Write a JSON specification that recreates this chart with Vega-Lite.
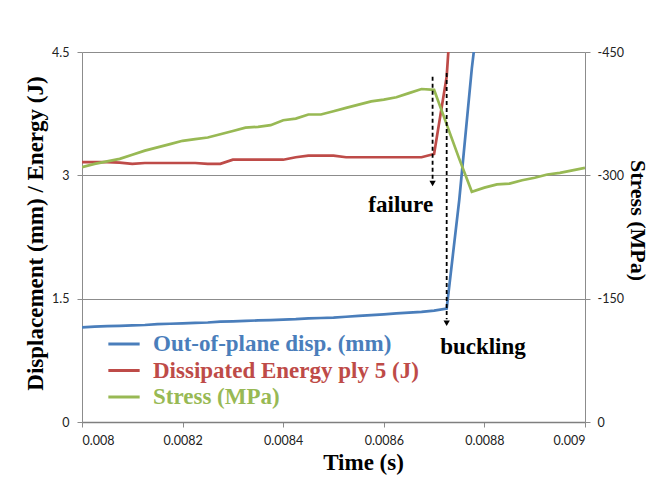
{
  "$schema": "https://vega.github.io/schema/vega-lite/v6.json",
  "width": 503,
  "height": 370,
  "autosize": {"type": "none"},
  "padding": {"left": 82, "top": 52, "right": 80, "bottom": 67},
  "background": "white",
  "config": {"view": {"stroke": null}, "font": "Liberation Serif"},
  "datasets": {
    "series": [
      {"t": 0.008, "d": 1.15, "e": 3.16, "s": -310},
      {"t": 0.008025, "d": 1.16, "e": 3.16, "s": -314},
      {"t": 0.00805, "d": 1.165, "e": 3.16, "s": -317},
      {"t": 0.008075, "d": 1.17, "e": 3.155, "s": -320},
      {"t": 0.0081, "d": 1.175, "e": 3.14, "s": -325},
      {"t": 0.008125, "d": 1.18, "e": 3.15, "s": -330},
      {"t": 0.00815, "d": 1.19, "e": 3.15, "s": -334},
      {"t": 0.008175, "d": 1.195, "e": 3.15, "s": -338},
      {"t": 0.0082, "d": 1.2, "e": 3.15, "s": -342},
      {"t": 0.008225, "d": 1.205, "e": 3.15, "s": -344},
      {"t": 0.00825, "d": 1.21, "e": 3.14, "s": -346},
      {"t": 0.008275, "d": 1.22, "e": 3.14, "s": -350},
      {"t": 0.0083, "d": 1.225, "e": 3.19, "s": -354},
      {"t": 0.008325, "d": 1.23, "e": 3.19, "s": -358},
      {"t": 0.00835, "d": 1.235, "e": 3.19, "s": -359},
      {"t": 0.008375, "d": 1.24, "e": 3.19, "s": -361},
      {"t": 0.0084, "d": 1.245, "e": 3.19, "s": -367},
      {"t": 0.008425, "d": 1.25, "e": 3.22, "s": -369},
      {"t": 0.00845, "d": 1.26, "e": 3.24, "s": -374},
      {"t": 0.008475, "d": 1.265, "e": 3.24, "s": -374},
      {"t": 0.0085, "d": 1.27, "e": 3.24, "s": -378},
      {"t": 0.008525, "d": 1.28, "e": 3.22, "s": -382},
      {"t": 0.00855, "d": 1.29, "e": 3.22, "s": -386},
      {"t": 0.008575, "d": 1.3, "e": 3.22, "s": -390},
      {"t": 0.0086, "d": 1.31, "e": 3.22, "s": -392},
      {"t": 0.008625, "d": 1.32, "e": 3.22, "s": -395},
      {"t": 0.00865, "d": 1.33, "e": 3.22, "s": -400},
      {"t": 0.008675, "d": 1.34, "e": 3.22, "s": -405},
      {"t": 0.0087, "d": 1.355, "e": 3.26, "s": -404},
      {"t": 0.008725, "d": 1.38, "e": 4.2, "s": -362},
      {"t": 0.00875, "d": 2.7, "e": 6.5, "s": -320},
      {"t": 0.008775, "d": 4.3, "e": 9, "s": -280},
      {"t": 0.0088, "d": 5.6, "e": 11, "s": -285},
      {"t": 0.008825, "d": 6.5, "e": 12, "s": -289},
      {"t": 0.00885, "d": 7, "e": 13, "s": -290},
      {"t": 0.008875, "d": 7.4, "e": 13.5, "s": -294},
      {"t": 0.0089, "d": 7.7, "e": 14, "s": -297},
      {"t": 0.008925, "d": 8, "e": 14.5, "s": -301},
      {"t": 0.00895, "d": 8.2, "e": 15, "s": -303},
      {"t": 0.008975, "d": 8.4, "e": 15.5, "s": -306},
      {"t": 0.009, "d": 8.6, "e": 16, "s": -309}
    ]
  },
  "layer": [
    {
      "encoding": {
        "x": {
          "type": "quantitative",
          "scale": {"domain": [0.008, 0.009], "nice": false, "zero": false},
          "axis": {
            "values": [0.008, 0.0082, 0.0084, 0.0086, 0.0088, 0.009],
            "labelExpr": "'' + datum.value",
            "grid": false,
            "domainColor": "#7f7f7f",
            "domainWidth": 1.5,
            "tickColor": "#8c8c8c",
            "tickSize": 5,
            "labelPadding": 7,
            "labelFont": "Lato",
            "labelFontSize": 12.5,
            "labelColor": "#222222",
            "title": "Time (s)",
            "titleFont": "Liberation Serif",
            "titleFontSize": 23,
            "titleFontWeight": "bold",
            "titleColor": "black",
            "titleX": 281,
            "titleY": 40,
            "titleAlign": "center",
            "titleBaseline": "middle"
          }
        },
        "y": {
          "type": "quantitative",
          "scale": {"domain": [0, 4.5], "nice": false},
          "axis": {
            "values": [0, 1.5, 3, 4.5],
            "labelExpr": "'' + datum.value",
            "grid": true,
            "gridColor": "#8c8c8c",
            "domainColor": "#8c8c8c",
            "tickColor": "#8c8c8c",
            "tickSize": 5,
            "labelPadding": 8,
            "labelFont": "Lato",
            "labelFontSize": 12.5,
            "labelColor": "#222222",
            "title": "Displacement (mm) / Energy (J)",
            "titleFont": "Liberation Serif",
            "titleFontSize": 23,
            "titleFontWeight": "bold",
            "titleColor": "black",
            "titleX": -47,
            "titleY": 181,
            "titleAngle": -90,
            "titleAlign": "center",
            "titleBaseline": "middle"
          }
        }
      },
      "layer": [
        {
          "data": {"name": "series"},
          "mark": {"type": "line", "strokeWidth": 2.7, "clip": true},
          "encoding": {
            "x": {"field": "t", "type": "quantitative"},
            "y": {"field": "d", "type": "quantitative"},
            "color": {
              "datum": "Out-of-plane disp. (mm)",
              "type": "nominal",
              "scale": {
                "domain": ["Out-of-plane disp. (mm)", "Dissipated Energy ply 5 (J)", "Stress (MPa)"],
                "range": ["#4A7EBB", "#BE4B48", "#98B954"]
              },
              "legend": {
                "orient": "none",
                "legendX": 29,
                "legendY": 279,
                "title": null,
                "symbolType": "M-1.4,0H1.4",
                "symbolStrokeWidth": 3,
                "symbolSize": 500,
                "labelFont": "Liberation Serif",
                "labelFontSize": 23,
                "labelFontWeight": "bold",
                "labelOffset": 16,
                "labelLimit": 400,
                "labelColor": {"expr": "scale('color', datum.value)"},
                "rowPadding": 1.5,
                "padding": 0
              }
            }
          }
        },
        {
          "data": {"name": "series"},
          "mark": {"type": "line", "strokeWidth": 2.7, "clip": true},
          "encoding": {
            "x": {"field": "t", "type": "quantitative"},
            "y": {"field": "e", "type": "quantitative"},
            "color": {"datum": "Dissipated Energy ply 5 (J)", "type": "nominal"}
          }
        }
      ]
    },
    {
      "data": {"name": "series"},
      "mark": {"type": "line", "strokeWidth": 2.7, "clip": true},
      "encoding": {
        "x": {"field": "t", "type": "quantitative"},
        "y": {
          "field": "s",
          "type": "quantitative",
          "scale": {"domain": [0, -450], "nice": false, "zero": false},
          "axis": {
            "orient": "right",
            "values": [-450, -300, -150, 0],
            "labelExpr": "'' + datum.value",
            "grid": false,
            "domainColor": "#8c8c8c",
            "tickColor": "#8c8c8c",
            "tickSize": 5,
            "labelPadding": 7,
            "labelFont": "Lato",
            "labelFontSize": 12.5,
            "labelColor": "#222222",
            "title": "Stress (MPa)",
            "titleFont": "Liberation Serif",
            "titleFontSize": 22,
            "titleFontWeight": "bold",
            "titleColor": "black",
            "titleX": 52,
            "titleY": 168,
            "titleAngle": 90,
            "titleAlign": "center",
            "titleBaseline": "middle"
          }
        },
        "color": {"datum": "Stress (MPa)", "type": "nominal"}
      }
    },
    {
      "data": {"values": [{"label": "failure"}]},
      "layer": [
        {
          "mark": {"type": "rule", "color": "black", "strokeWidth": 1.8, "strokeDash": [4, 3]},
          "encoding": {
            "x": {"datum": 0.008697, "type": "quantitative"},
            "y": {"datum": 4.2, "type": "quantitative", "scale": {"domain": [0, 4.5], "nice": false}, "axis": null},
            "y2": {"datum": 2.95}
          }
        },
        {
          "mark": {"type": "point", "shape": "triangle-down", "filled": true, "color": "black", "size": 40, "opacity": 1},
          "encoding": {
            "x": {"datum": 0.008697, "type": "quantitative"},
            "y": {"datum": 2.9, "type": "quantitative"}
          }
        },
        {
          "mark": {"type": "rule", "color": "black", "strokeWidth": 1.8, "strokeDash": [4, 3]},
          "encoding": {
            "x": {"datum": 0.008725, "type": "quantitative"},
            "y": {"datum": 4.245, "type": "quantitative"},
            "y2": {"datum": 1.25}
          }
        },
        {
          "mark": {"type": "point", "shape": "triangle-down", "filled": true, "color": "black", "size": 40, "opacity": 1},
          "encoding": {
            "x": {"datum": 0.008725, "type": "quantitative"},
            "y": {"datum": 1.2, "type": "quantitative"}
          }
        },
        {
          "mark": {"type": "text", "align": "right", "baseline": "alphabetic", "font": "Liberation Serif", "fontSize": 23, "fontWeight": "bold", "color": "black"},
          "encoding": {
            "x": {"datum": 0.008698, "type": "quantitative"},
            "y": {"datum": 2.554, "type": "quantitative"},
            "text": {"value": "failure"}
          }
        },
        {
          "mark": {"type": "text", "align": "left", "baseline": "alphabetic", "font": "Liberation Serif", "fontSize": 23, "fontWeight": "bold", "color": "black"},
          "encoding": {
            "x": {"datum": 0.008712, "type": "quantitative"},
            "y": {"datum": 0.827, "type": "quantitative"},
            "text": {"value": "buckling"}
          }
        }
      ]
    }
  ],
  "resolve": {"scale": {"y": "independent"}, "axis": {"y": "independent"}}
}
